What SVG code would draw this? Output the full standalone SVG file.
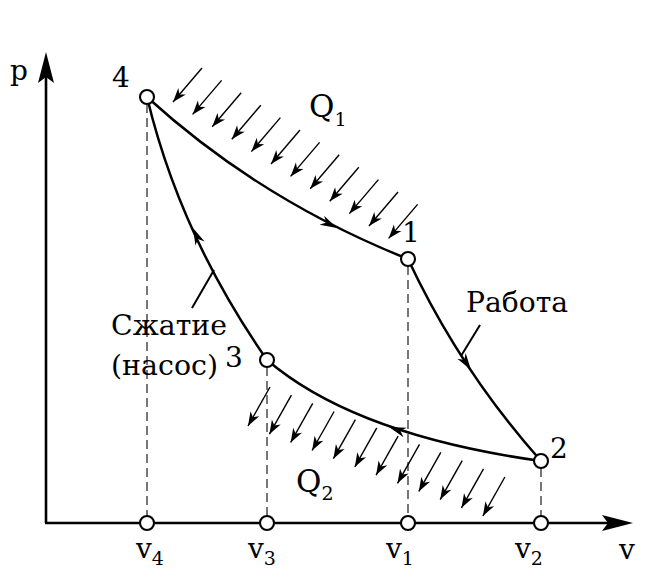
<svg xmlns="http://www.w3.org/2000/svg" xmlns:xlink="http://www.w3.org/1999/xlink" width="650" height="577" viewBox="0 0 650 577">
<style>
.t{font-family:"DejaVu Serif","Liberation Serif",serif;font-size:28px;fill:#000}
.q{font-size:31px}
.s{font-size:19px}
.curve{fill:none;stroke:#000;stroke-width:2.5}
.axis{fill:none;stroke:#000;stroke-width:2.6}
.dash{fill:none;stroke:#555;stroke-width:1.6;stroke-dasharray:9 5}
.pt{fill:#fff;stroke:#000;stroke-width:2.1}
.h{stroke:#000;stroke-width:1.4;marker-end:url(#ha)}
.lead{stroke:#000;stroke-width:2}
</style>
<defs>
<marker id="ha" viewBox="-15 -6 16 12" refX="0" refY="0" markerWidth="16" markerHeight="12" orient="auto" markerUnits="userSpaceOnUse">
<path d="M0,0 L-14,-5 L-10,0 L-14,5 Z" fill="#000"/>
</marker>
<path id="ca" d="M0,0 L-17,-5 L-12,0 L-17,5 Z" fill="#000"/>
</defs>
<rect width="650" height="577" fill="#fff"/>

<g id="axes">
<line class="axis" x1="46" y1="523" x2="46" y2="77"/>
<path d="M46,52 L54,83 L46,77 L38,83 Z" fill="#000"/>
<line class="axis" x1="45" y1="523" x2="608" y2="523"/>
<path d="M633,523 L602,515 L608,523 L602,531 Z" fill="#000"/>
<text class="t" x="10" y="80">p</text>
<text class="t" x="619" y="559">v</text>
</g>

<g id="connectors">
<path class="dash" d="M147,104 V516"/>
<path class="dash" d="M267,367 V516"/>
<path class="dash" d="M408,266 V516"/>
<path class="dash" d="M541,468 V516"/>
<path class="curve" d="M147,97 Q260,200 408,259"/>
<path class="curve" d="M408,259 Q460,370 541,461"/>
<path class="curve" d="M541,461 Q355,435 267,360"/>
<path class="curve" d="M267,360 Q180,235 147,97"/>
<use xlink:href="#ca" transform="translate(337,228) rotate(26.9)"/>
<use xlink:href="#ca" transform="translate(471,370) rotate(56.1)"/>
<use xlink:href="#ca" transform="translate(389,427) rotate(-161.3)"/>
<use xlink:href="#ca" transform="translate(193,228) rotate(-114.3)"/>
<line class="lead" x1="214" y1="270" x2="192" y2="308"/>
<line class="lead" x1="480" y1="325" x2="461" y2="356"/>
</g>

<g id="q1-arrows">
<line class="h" x1="202" y1="68" x2="173" y2="102"/>
<line class="h" x1="221.6" y1="80.4" x2="192.6" y2="114.4"/>
<line class="h" x1="241.2" y1="92.8" x2="212.2" y2="126.8"/>
<line class="h" x1="260.8" y1="105.2" x2="231.8" y2="139.2"/>
<line class="h" x1="280.4" y1="117.6" x2="251.4" y2="151.6"/>
<line class="h" x1="300" y1="130" x2="271" y2="164"/>
<line class="h" x1="319.6" y1="142.4" x2="290.6" y2="176.4"/>
<line class="h" x1="339.2" y1="154.8" x2="310.2" y2="188.8"/>
<line class="h" x1="358.8" y1="167.2" x2="329.8" y2="201.2"/>
<line class="h" x1="378.4" y1="179.6" x2="349.4" y2="213.6"/>
<line class="h" x1="398" y1="192" x2="369" y2="226"/>
<line class="h" x1="417.6" y1="204.4" x2="388.6" y2="238.4"/>
</g>

<g id="q2-arrows">
<line class="h" x1="270" y1="387" x2="248" y2="426"/>
<line class="h" x1="291.4" y1="395.2" x2="269.4" y2="434.2"/>
<line class="h" x1="312.7" y1="403.4" x2="290.7" y2="442.4"/>
<line class="h" x1="334.1" y1="411.5" x2="312.1" y2="450.5"/>
<line class="h" x1="355.4" y1="419.7" x2="333.4" y2="458.7"/>
<line class="h" x1="376.8" y1="427.9" x2="354.8" y2="466.9"/>
<line class="h" x1="398.1" y1="436.1" x2="376.1" y2="475.1"/>
<line class="h" x1="419.5" y1="444.3" x2="397.5" y2="483.3"/>
<line class="h" x1="440.8" y1="452.4" x2="418.8" y2="491.4"/>
<line class="h" x1="462.2" y1="460.6" x2="440.2" y2="499.6"/>
<line class="h" x1="483.5" y1="468.8" x2="461.5" y2="507.8"/>
<line class="h" x1="504.9" y1="477" x2="482.9" y2="516"/>
</g>

<g id="node-4">
<circle class="pt" cx="147" cy="97" r="7"/>
<text class="t" x="112" y="87">4</text>
</g>
<g id="node-1">
<circle class="pt" cx="408" cy="259" r="7"/>
<text class="t" x="402" y="242">1</text>
</g>
<g id="node-2">
<circle class="pt" cx="541" cy="461" r="7"/>
<text class="t" x="550" y="458">2</text>
</g>
<g id="node-3">
<circle class="pt" cx="267" cy="360" r="7"/>
<text class="t" x="225" y="367">3</text>
</g>

<g id="v4"><circle class="pt" cx="147" cy="523" r="7"/><text class="t" x="136" y="558">v<tspan class="s" dy="7">4</tspan></text></g>
<g id="v3"><circle class="pt" cx="267" cy="523" r="7"/><text class="t" x="248" y="558">v<tspan class="s" dy="7">3</tspan></text></g>
<g id="v1"><circle class="pt" cx="408" cy="523" r="7"/><text class="t" x="386" y="558">v<tspan class="s" dy="7">1</tspan></text></g>
<g id="v2"><circle class="pt" cx="541" cy="523" r="7"/><text class="t" x="515" y="558">v<tspan class="s" dy="7">2</tspan></text></g>

<g id="label-q1"><text class="t q" x="309" y="117">Q<tspan class="s" dy="9">1</tspan></text></g>
<g id="label-q2"><text class="t q" x="296" y="492">Q<tspan class="s" dy="8">2</tspan></text></g>
<g id="label-work"><text class="t" x="466" y="312" textLength="102" lengthAdjust="spacingAndGlyphs">Работа</text></g>
<g id="label-compress">
<text class="t" x="111" y="335" textLength="116" lengthAdjust="spacingAndGlyphs">Сжатие</text>
<text class="t" x="111" y="375" textLength="107" lengthAdjust="spacingAndGlyphs">(насос)</text>
</g>
</svg>
